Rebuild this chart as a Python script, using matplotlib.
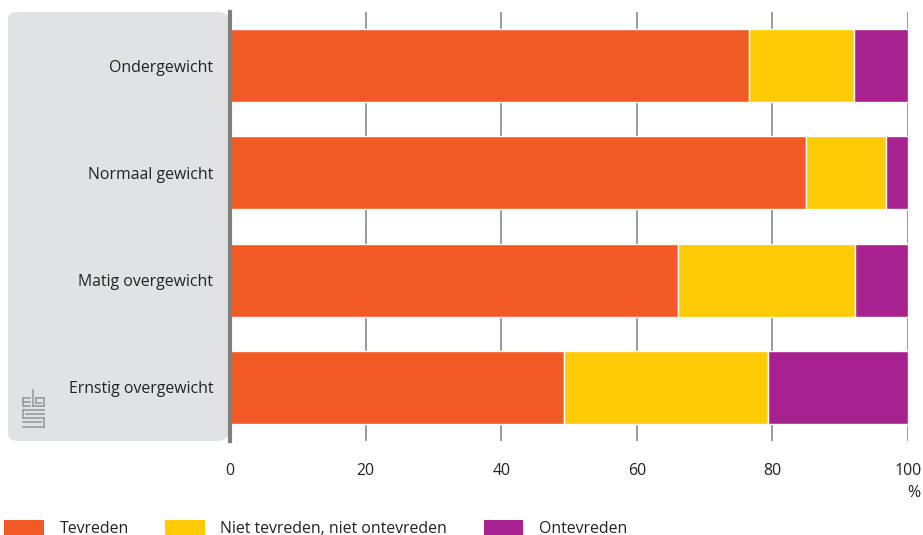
import numpy as np
import matplotlib
matplotlib.use('Agg')
import matplotlib.pyplot as plt
from matplotlib.patches import FancyBboxPatch, Patch
from matplotlib.lines import Line2D

plt.rcParams['font.family'] = ['Open Sans', 'DejaVu Sans']

categories = ['Ondergewicht', 'Normaal gewicht', 'Matig overgewicht', 'Ernstig overgewicht']
tevreden = [76.5, 85.0, 66.1, 49.2]
neutraal = [15.5, 11.8, 26.1, 30.2]
ontevreden = [8.0, 3.2, 7.8, 20.6]
series_names = ['Tevreden', 'Niet tevreden, niet ontevreden', 'Ontevreden']
colors = ['#f15a24', '#ffcb05', '#a8228f']
xticks = [0, 20, 40, 60, 80, 100]

W, H = 923, 535
fs = 11.4
fig = plt.figure(figsize=(W / 100, H / 100), dpi=100)

def fx(px):
    return px / W

def fy(py):
    return 1 - py / H

# grey label panel
panel = FancyBboxPatch((fx(8), fy(441)), fx(228) - fx(8), fy(12) - fy(441),
                       boxstyle='round,pad=0,rounding_size=0.012',
                       transform=fig.transFigure, facecolor='#e1e2e4',
                       edgecolor='none', zorder=-1)
fig.patches.append(panel)

ax = fig.add_axes([fx(230), fy(441), fx(908) - fx(230), fy(12) - fy(441)])
ax.set_facecolor('none')
ax.set_zorder(1)

y = np.arange(len(categories))
left = np.zeros(len(categories))
for vals, c, name in zip([tevreden, neutraal, ontevreden], colors, series_names):
    ax.barh(y, vals, left=left, height=0.68, color=c, edgecolor='white',
            linewidth=1, zorder=3, label=name)
    left += np.array(vals)

ax.set_xlim(0, 100)
ax.set_ylim(3.5, -0.5)
ax.set_xticks(xticks)
ax.set_xticklabels([str(t) for t in xticks], fontsize=fs, color='#222222')
ax.tick_params(axis='x', length=0, pad=16)
ax.set_yticks(y)
ax.set_yticklabels(categories, fontsize=fs, color='#222222')
ax.tick_params(axis='y', length=0, pad=12)
for t in xticks[1:]:
    ax.axvline(t, color='#8a8a8a', linewidth=1.2, zorder=1)
for s in ['top', 'right', 'bottom']:
    ax.spines[s].set_visible(False)
ax.spines['left'].set_color('#7f7f7f')
ax.spines['left'].set_linewidth(3)
ax.spines['left'].set_zorder(4)

fig.text(fx(920), fy(493), '%', ha='right', va='center', fontsize=fs, color='#222222')

# small cbs logo
logo = [
    [(23, 398), (30, 398)], [(23, 398), (23, 406)], [(23, 406), (30, 406)],
    [(23, 402), (30, 402)],
    [(33, 390), (33, 406)], [(33, 406), (44, 406)], [(44, 406), (44, 398)],
    [(44, 398), (36, 398)], [(36, 398), (36, 403)], [(36, 403), (41, 403)],
    [(23, 410), (44, 410)], [(23, 410), (23, 418)], [(23, 418), (44, 418)],
    [(44, 418), (44, 427)], [(44, 427), (23, 427)],
    [(26, 414), (44, 414)], [(23, 422), (41, 422)],
]
for (x0, y0), (x1, y1) in logo:
    fig.add_artist(Line2D([fx(x0), fx(x1)], [fy(y0), fy(y1)],
                          transform=fig.transFigure, color='#9a9a9a', linewidth=1.2))

handles = [Patch(facecolor=c, edgecolor='none') for c in colors]
fig.legend(handles, series_names, loc='lower left', bbox_to_anchor=(fx(4), -0.003),
           ncol=3, frameon=False, fontsize=fs, handlelength=2.5, handleheight=1.05,
           handletextpad=1.0, columnspacing=2.3, borderpad=0, borderaxespad=0,
           labelcolor='#222222')

fig.savefig('out.png', dpi=100)
